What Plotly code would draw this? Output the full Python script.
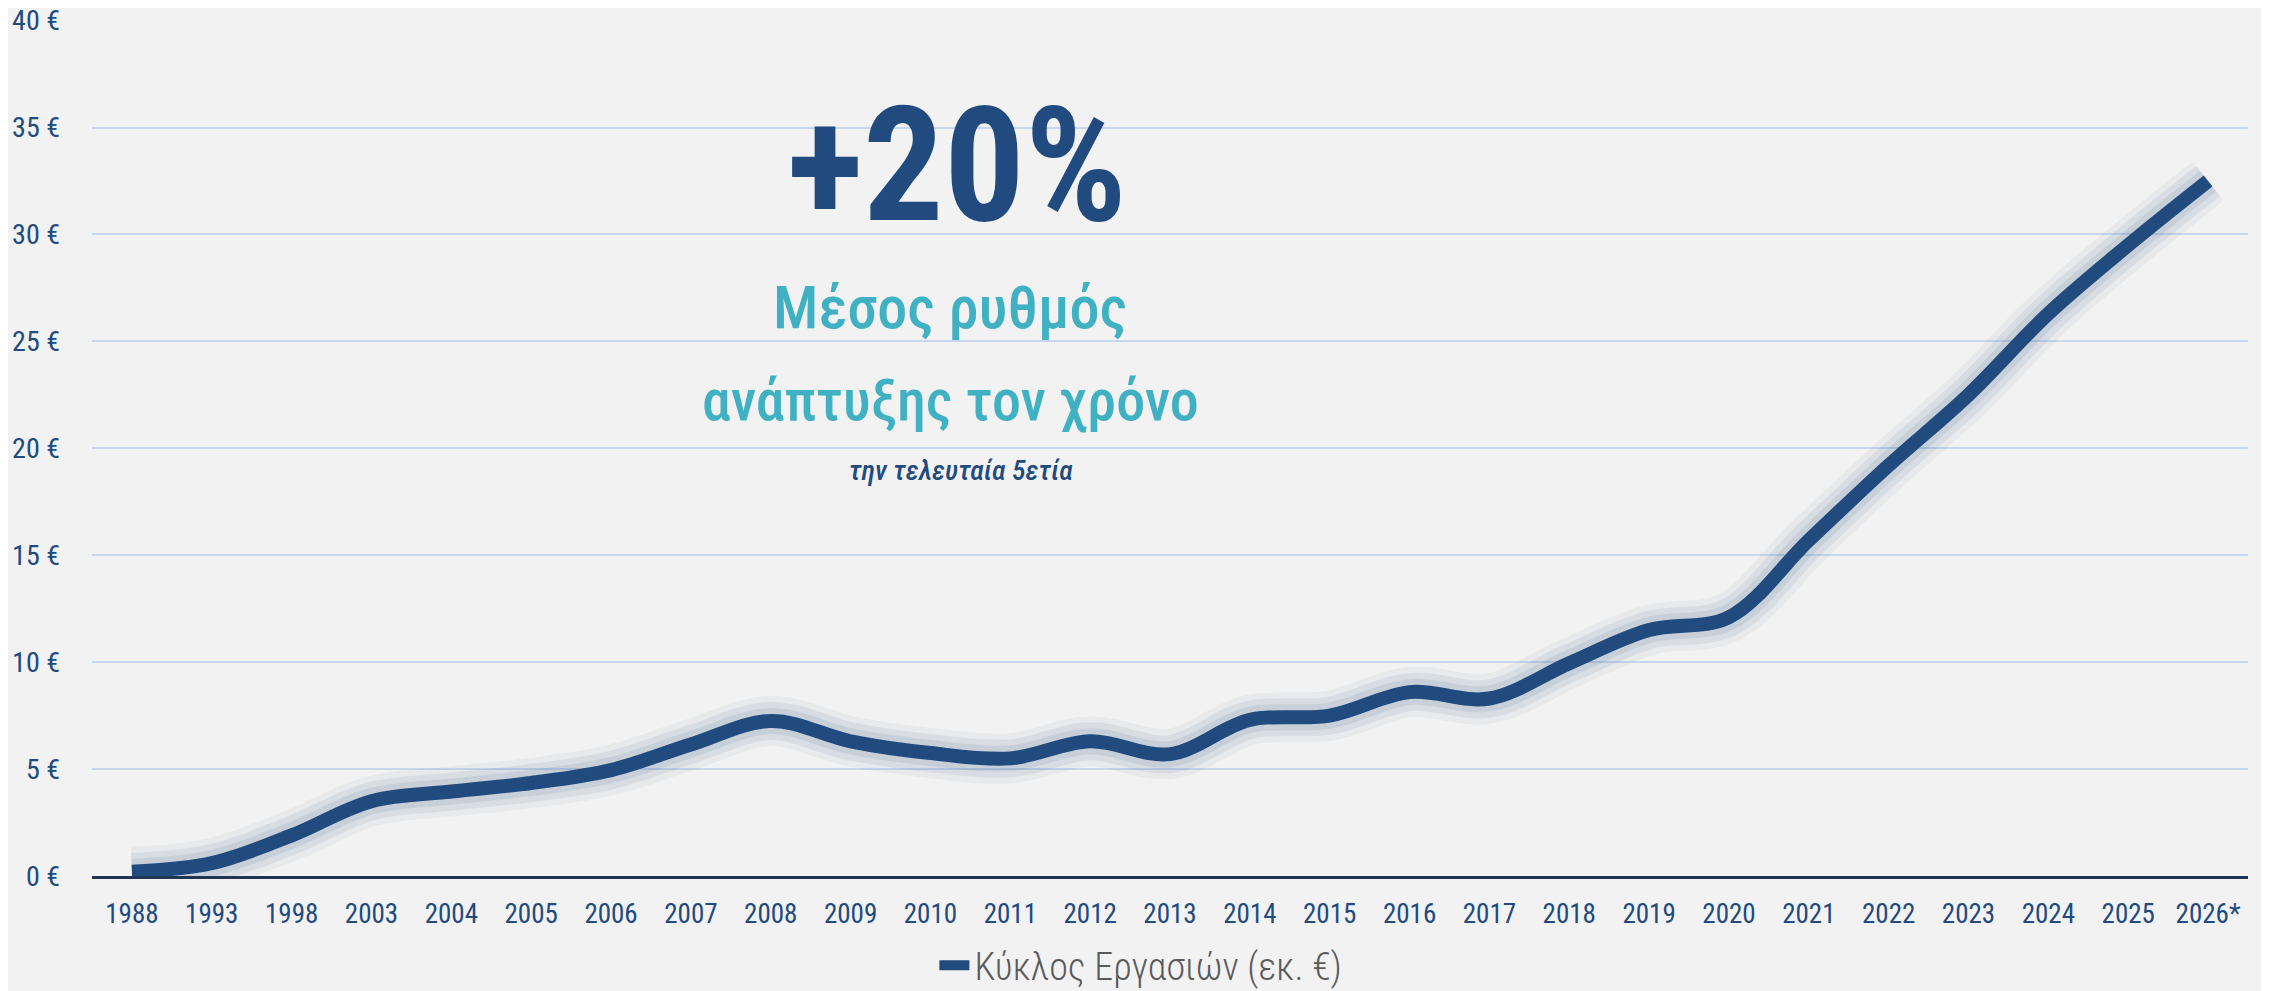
import plotly.graph_objects as go

years = ["1988", "1993", "1998", "2003", "2004", "2005", "2006", "2007", "2008", "2009",
         "2010", "2011", "2012", "2013", "2014", "2015", "2016", "2017", "2018", "2019",
         "2020", "2021", "2022", "2023", "2024", "2025", "2026*"]
turnover = [0.2, 0.6, 1.9, 3.5, 3.95, 4.35, 4.95, 6.15, 7.25, 6.3,
            5.75, 5.5, 6.3, 5.7, 7.3, 7.5, 8.6, 8.3, 9.95, 11.5,
            12.1, 15.7, 19.2, 22.5, 26.3, 29.5, 32.5]
series_name = "Κύκλος Εργασιών (εκ. €)"
y_ticks = [0, 5, 10, 15, 20, 25, 30, 35, 40]
y_tick_text = [f"{v} €" for v in y_ticks]

DARK = "#214a7e"
TEAL = "#40b1c2"
BG = "#f2f2f2"
FONT = "Roboto Condensed, Roboto, sans-serif"

fig = go.Figure()
# soft glow underneath the line
for w, a in [(50, 0.05), (38, 0.07), (26, 0.09)]:
    fig.add_trace(go.Scatter(x=years, y=turnover, mode="lines",
                             line=dict(color=f"rgba(33,74,126,{a})", width=w, shape="spline"),
                             showlegend=False, hoverinfo="skip"))
fig.add_trace(go.Scatter(x=years, y=turnover, mode="lines", name=series_name,
                         line=dict(color=DARK, width=14, shape="spline")))

# the page body adds an 8px offset, so the figure is 8px smaller in each direction
fig.update_layout(
    width=2261, height=983,
    paper_bgcolor=BG, plot_bgcolor=BG,
    margin=dict(l=84, r=21, t=12, b=115),
    font=dict(family=FONT, color=DARK),
    showlegend=True,
    legend=dict(orientation="h", xref="paper", x=0.4865, xanchor="center",
                yref="container", y=0.026, yanchor="middle",
                font=dict(size=38, color="#5a5a5a", family=FONT, weight=300),
                bgcolor="rgba(0,0,0,0)"),
    xaxis=dict(type="category", range=[-0.5, 26.5], showgrid=False, automargin=False,
               showline=True, linecolor="#1f3552", linewidth=3,
               tickfont=dict(size=27, color=DARK, family=FONT),
               ticks="", ticklabelstandoff=12, ticklabeloverflow="allow"),
    yaxis=dict(range=[0, 40.03], tickvals=y_ticks, ticktext=y_tick_text, automargin=False,
               showgrid=True, gridcolor="#c8d6ec", gridwidth=1.5,
               zeroline=False, showline=False,
               tickfont=dict(size=28, color=DARK, family=FONT),
               ticks="", ticklabelstandoff=31, ticklabeloverflow="allow"),
)

fig.add_annotation(xref="paper", yref="paper", x=0.401, y=0.83, text="<b>+20%</b>",
                   showarrow=False, xanchor="center", yanchor="middle",
                   font=dict(size=160, color=DARK, family=FONT))
fig.add_annotation(xref="paper", yref="paper", x=0.398, y=0.664, text="Μέσος ρυθμός",
                   showarrow=False, xanchor="center", yanchor="middle",
                   font=dict(size=60, color=TEAL, family=FONT, weight=500))
fig.add_annotation(xref="paper", yref="paper", x=0.398, y=0.556, text="ανάπτυξης τον χρόνο",
                   showarrow=False, xanchor="center", yanchor="middle",
                   font=dict(size=58, color=TEAL, family=FONT, weight=500))
fig.add_annotation(xref="paper", yref="paper", x=0.403, y=0.474, text="<i>την τελευταία 5ετία</i>",
                   showarrow=False, xanchor="center", yanchor="middle",
                   font=dict(size=28, color=DARK, family=FONT, weight=500))

fig.write_html("out.html")
